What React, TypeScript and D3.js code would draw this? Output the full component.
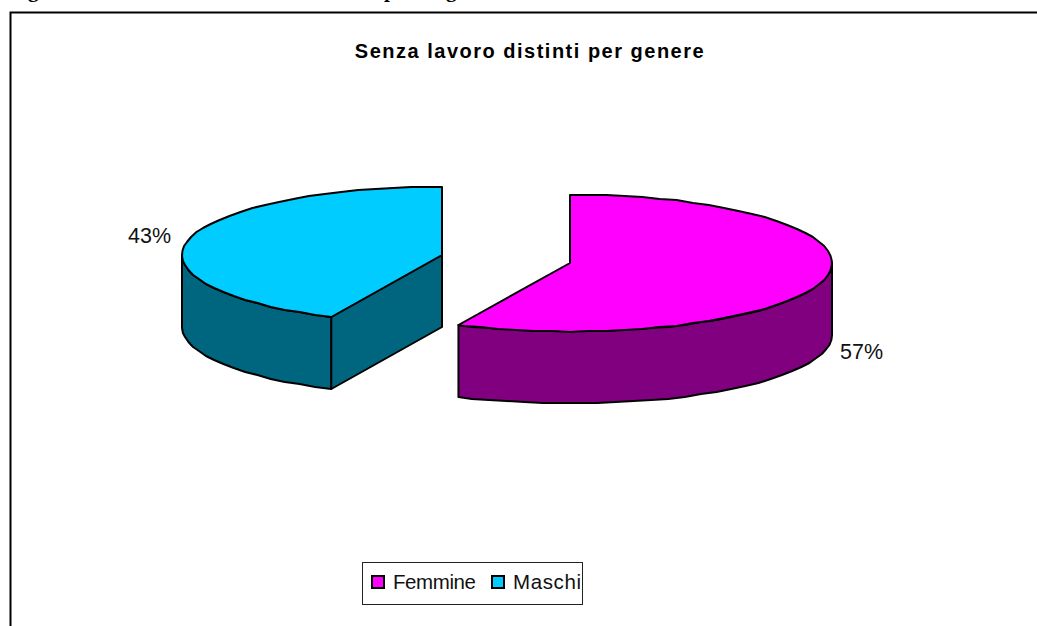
import { useEffect, useRef } from "react";
import * as d3 from "d3";

const categories = ["Femmine", "Maschi"];
const values = [57, 43];
const topColors = ["#FF00FF", "#00CCFF"];
const sideColors = ["#800080", "#006680"];
const title = "Senza lavoro distinti per genere";

// centre of each exploded slice on the page
const centers = [
  { x: 570, y: 263, rx: 262, ry: 68.5, depth: 72 },
  { x: 442, y: 255, rx: 260, ry: 68.5, depth: 72 },
];
const labelPos = [
  { x: 840, y: 359 },
  { x: 128, y: 243 },
];
const legendTextWidth = [83, 68];

export default function App() {
  const ref = useRef<SVGSVGElement>(null);

  useEffect(() => {
    const svg = d3.select(ref.current);
    svg.selectAll("*").remove();

    // the heading above the frame is cut off by the page edge, only descenders show
    svg
      .append("g")
      .attr("font-family", "Liberation Serif")
      .attr("font-weight", "bold")
      .attr("font-size", 21)
      .selectAll("text")
      .data([
        { c: "g", x: 28 },
        { c: "p", x: 384 },
        { c: "g", x: 446 },
      ])
      .join("text")
      .attr("x", (d) => d.x)
      .attr("y", -3)
      .text((d) => d.c);

    const pie = d3
      .pie<number>()
      .sort(null)
      .value((d) => d);
    const arcs = pie(values);
    const line = d3.line();

    const slices = svg.append("g").attr("stroke", "#000").attr("stroke-width", 2).attr("stroke-linejoin", "round");

    arcs.forEach((a, i) => {
      const c = centers[i];
      const pt = (ang: number, drop = 0): [number, number] => [
        c.x + c.rx * Math.sin(ang),
        // snapped so the rim keeps the rough look of the original
        Math.round(c.y - c.ry * Math.cos(ang)) + drop,
      ];
      const step = (4 * Math.PI) / 180;
      const sweep = (from: number, to: number) => {
        const angs = d3.range(from, to, step);
        angs.push(to);
        return angs;
      };

      // outer wall: only the part of the rim facing the viewer
      const wallFrom = Math.max(a.startAngle, Math.PI / 2);
      const wallTo = Math.min(a.endAngle, (3 * Math.PI) / 2);
      const rim = sweep(wallFrom, wallTo);
      const wall = [...rim.map((t) => pt(t)), ...rim.slice().reverse().map((t) => pt(t, c.depth))];
      slices
        .append("path")
        .attr("d", line(wall) + "Z")
        .attr("fill", sideColors[i]);

      // cut face, visible only on the slice that ends at the top
      if (a.endAngle >= 2 * Math.PI - 0.001) {
        const face: [number, number][] = [
          [c.x, c.y],
          pt(a.startAngle),
          pt(a.startAngle, c.depth),
          [c.x, c.y + c.depth],
        ];
        slices
          .append("path")
          .attr("d", line(face) + "Z")
          .attr("fill", sideColors[i]);
      }

      const top: [number, number][] = [[c.x, c.y], ...sweep(a.startAngle, a.endAngle).map((t) => pt(t))];
      slices
        .append("path")
        .attr("d", line(top) + "Z")
        .attr("fill", topColors[i]);

      svg
        .append("text")
        .attr("x", labelPos[i].x)
        .attr("y", labelPos[i].y)
        .attr("font-family", "Liberation Sans")
        .attr("font-size", 21.5)
        .attr("fill", "#111")
        .text(`${values[i]}%`);
    });

    // frame, runs off the page on the right and at the bottom
    svg
      .append("path")
      .attr("d", "M10.5,640V12.5H1050")
      .attr("fill", "none")
      .attr("stroke", "#000")
      .attr("stroke-width", 2);

    svg
      .append("text")
      .attr("x", 530)
      .attr("y", 58)
      .attr("text-anchor", "middle")
      .attr("font-family", "Liberation Sans")
      .attr("font-weight", "bold")
      .attr("font-size", 20)
      .attr("letter-spacing", 1.5)
      .text(title);

    // legend
    const legend = svg.append("g");
    legend
      .append("rect")
      .attr("x", 362.5)
      .attr("y", 562.5)
      .attr("width", 220)
      .attr("height", 42)
      .attr("fill", "#fff")
      .attr("stroke", "#222")
      .attr("stroke-width", 1);
    const swatchX = d3.scaleOrdinal<string, number>().domain(categories).range([372, 492]);
    const entries = legend.selectAll("g").data(categories).join("g");
    entries
      .append("rect")
      .attr("x", (d) => swatchX(d))
      .attr("y", 576)
      .attr("width", 12)
      .attr("height", 12)
      .attr("fill", (_, i) => topColors[i])
      .attr("stroke", "#000")
      .attr("stroke-width", 2);
    entries
      .append("text")
      .attr("x", (d) => swatchX(d) + 21)
      .attr("y", 589)
      .attr("font-family", "Liberation Sans")
      .attr("font-size", 20.5)
      .attr("textLength", (_, i) => legendTextWidth[i])
      .attr("fill", "#111")
      .text((d) => d);
  }, []);

  return <svg ref={ref} width={1037} height={626} style={{ position: "absolute", left: 0, top: 0, background: "#fff" }} />;
}
